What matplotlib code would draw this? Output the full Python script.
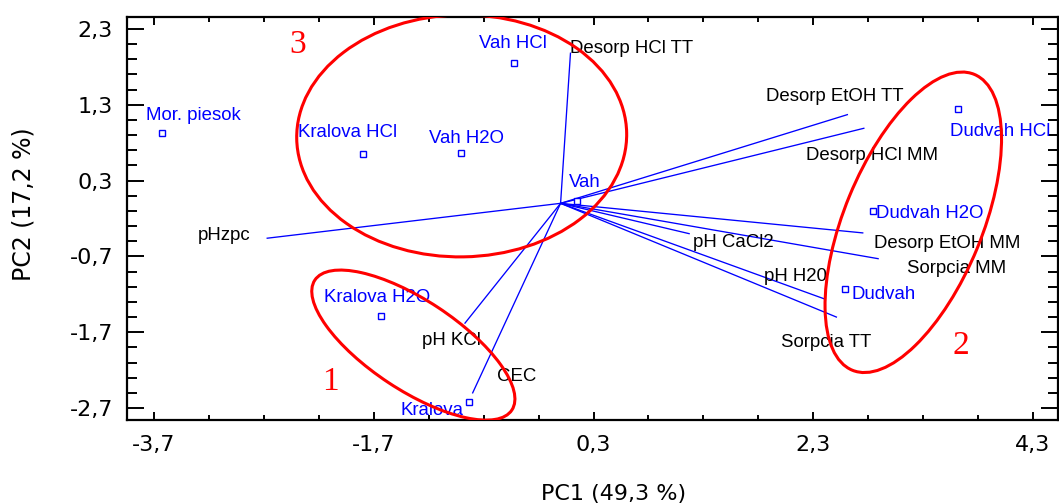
import matplotlib
matplotlib.use("Agg")
import matplotlib.pyplot as plt
from matplotlib.patches import Ellipse
from matplotlib.transforms import ScaledTranslation
from matplotlib.ticker import FixedLocator, FuncFormatter

# sample scores (PC1, PC2)
samples = ["Mor. piesok", "Kralova HCl", "Vah H2O", "Vah HCl", "Vah",
           "Kralova H2O", "Kralova", "Dudvah HCl", "Dudvah H2O", "Dudvah"]
sample_pc1 = [-3.63, -1.80, -0.91, -0.42, 0.15, -1.63, -0.83, 3.62, 2.84, 2.59]
sample_pc2 = [0.93, 0.65, 0.66, 1.85, 0.03, -1.49, -2.62, 1.25, -0.10, -1.13]

# variable loadings (vector end points)
variables = ["Desorp HCl TT", "Desorp EtOH TT", "Desorp HCl MM", "Desorp EtOH MM",
             "Sorpcia MM", "pH CaCl2", "pH H20", "Sorpcia TT", "pHzpc", "pH KCl", "CEC"]
var_pc1 = [0.09, 2.61, 2.76, 2.75, 2.89, 1.17, 2.40, 2.51, -2.67, -0.87, -0.80]
var_pc2 = [1.98, 1.17, 0.99, -0.39, -0.73, -0.40, -1.26, -1.50, -0.46, -1.58, -2.50]

# groups circled on the chart
group_names = ["1", "2", "3"]
group_pc1 = [-1.34, 3.21, -0.90]
group_pc2 = [-1.87, -0.25, 0.89]

xticks = [-3.7, -1.7, 0.3, 2.3, 4.3]
yticks = [-2.7, -1.7, -0.7, 0.3, 1.3, 2.3]

# label placement: offset in pixels of the text baseline, alignment
sample_off = [(-16, 13, "left"), (-65, 17, "left"), (-32, 10, "left"), (-35, 15, "left"),
              (-8, 14, "left"), (-57, 14, "left"), (-6, -13, "right"), (-8, -27, "left"),
              (3, -7, "left"), (6, -10, "left")]
var_off = [(0, 0), (-81, 14), (-58, -32), (11, -15), (29, -14), (4, -13),
           (-60, 18), (-55, -30), (-69, -2), (-43, -22), (24, 12)]
# ellipse semi axes (px) and angle, number position (px from centre)
ell_style = [(118, 45, -33.4, (-83, -45)), (160, 69, 67.6, (48, -132)), (165, 121, 1.0, (-164, 83))]

plt.rcParams['font.family'] = ['Liberation Sans', 'DejaVu Sans']
fs = 13.4
afs = 16
fig = plt.figure(figsize=(10.59, 5.03), dpi=100)
ax = fig.add_axes([127/1059, 1-420/503, 931/1059, 403/503])
ax.set_xlim(-3.946, 4.527)
ax.set_ylim(-2.858, 2.458)

for x, y in zip(var_pc1, var_pc2):
    ax.plot([0, x], [0, y], color='blue', lw=0.95, zorder=2)
for name, x, y, (dx, dy) in zip(variables, var_pc1, var_pc2, var_off):
    ax.annotate(name, (x, y), xytext=(dx, dy), textcoords='offset pixels',
                ha='left', va='baseline', fontsize=fs, color='black', zorder=3)

ax.plot(sample_pc1, sample_pc2, 's', ms=4.6, mfc='white', mec='blue', mew=1.0,
        ls='none', zorder=4)
for name, x, y, (dx, dy, ha) in zip(samples, sample_pc1, sample_pc2, sample_off):
    t = ax.annotate(name, (x, y), xytext=(dx, dy), textcoords='offset pixels',
                    ha=ha, va='baseline', fontsize=fs, color='blue', zorder=3,
                    annotation_clip=False)
    t.set_clip_on(True)

for name, cx, cy, (a, b, ang, (nx, ny)) in zip(group_names, group_pc1, group_pc2, ell_style):
    tr = fig.dpi_scale_trans + ScaledTranslation(cx, cy, ax.transData)
    ax.add_patch(Ellipse((0, 0), 2*a/100, 2*b/100, angle=ang, transform=tr,
                         fill=False, ec='red', lw=2.2, zorder=5))
    ax.annotate(name, (cx, cy), xytext=(nx, ny), textcoords='offset pixels',
                ha='center', va='baseline', fontsize=24, color='red',
                family='Liberation Serif', zorder=5)

fmt = FuncFormatter(lambda v, p: ("%.1f" % v).replace('.', ','))
ax.xaxis.set_major_locator(FixedLocator(xticks))
ax.yaxis.set_major_locator(FixedLocator(yticks))
ax.xaxis.set_minor_locator(FixedLocator([-3.7 + 0.5*i for i in range(-1, 18)]))
ax.yaxis.set_minor_locator(FixedLocator([-2.7 + 0.2*i for i in range(-1, 27)]))
ax.xaxis.set_major_formatter(fmt)
ax.yaxis.set_major_formatter(fmt)
ax.tick_params(which='both', direction='in', top=True, right=True, width=1.4,
               labelsize=afs, labelfontfamily='DejaVu Sans')
ax.tick_params(axis='x', which='major', length=6, pad=11)
ax.tick_params(axis='x', which='minor', length=3.3)
ax.tick_params(axis='y', which='major', length=12.5, pad=10)
ax.tick_params(axis='y', which='minor', length=7.5)
for s in ax.spines.values():
    s.set_linewidth(1.6)

ax.set_xlabel('PC1 (49,3 %)', fontsize=afs, family='DejaVu Sans')
ax.xaxis.set_label_coords(0.523, -0.158)
ax.set_ylabel('PC2 (17,2 %)', fontsize=afs + 1, family='DejaVu Sans')
ax.yaxis.set_label_coords(-0.098, 0.535)

fig.savefig('out.png', dpi=100)
